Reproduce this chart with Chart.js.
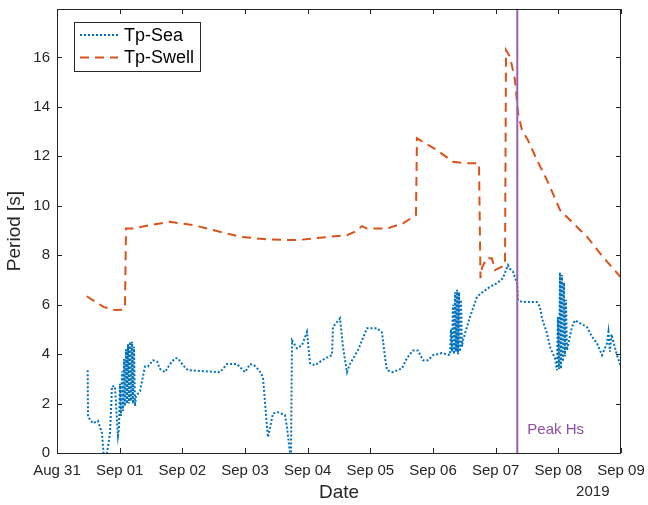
<!DOCTYPE html>
<html>
<head>
<meta charset="utf-8">
<script src="https://cdn.jsdelivr.net/npm/chart.js@4.4.1/dist/chart.umd.min.js"></script>
<style>
  html, body { margin: 0; padding: 0; background: #fff; }
  #wrap { width: 648px; height: 505px; position: relative; }
</style>
</head>
<body>
<div id="wrap"><canvas id="c"></canvas></div>
<script>
// Time axis: days elapsed since 2019-08-31 00:00
const dayTicks = [0, 1, 2, 3, 4, 5, 6, 7, 8, 9];
const dayLabels = ['Aug 31', 'Sep 01', 'Sep 02', 'Sep 03', 'Sep 04', 'Sep 05', 'Sep 06', 'Sep 07', 'Sep 08', 'Sep 09'];
const periodTicks = [0, 2, 4, 6, 8, 10, 12, 14, 16];
const yearLabel = '2019';

// Wind-sea peak period
const seaTime = [
  0.490, 0.495, 0.574, 0.654, 0.718, 0.742, 0.798, 0.846, 0.878, 0.925, 0.957, 0.973,
  0.989, 1.005, 1.021, 1.037, 1.053, 1.069, 1.085, 1.101, 1.117, 1.133, 1.149, 1.165,
  1.181, 1.197, 1.213, 1.229, 1.245, 1.261,
  1.324, 1.404, 1.452, 1.532, 1.596, 1.644, 1.723, 1.803, 1.883, 1.931, 2.011, 2.090,
  2.601, 2.713, 2.872, 3.000, 3.080, 3.144, 3.224, 3.287, 3.351, 3.367, 3.447, 3.526,
  3.638, 3.670, 3.718, 3.734, 3.750, 3.830, 3.909, 3.989, 4.037, 4.117, 4.229, 4.324,
  4.388, 4.404, 4.516, 4.564, 4.627, 4.675, 4.803, 4.947, 5.106, 5.186, 5.234, 5.266,
  5.361, 5.505, 5.585, 5.681, 5.760, 5.840, 5.920, 6.000, 6.143, 6.271, 6.287, 6.303,
  6.319, 6.335, 6.351, 6.367, 6.383, 6.399, 6.415, 6.431, 6.447, 6.463,
  6.478, 6.590, 6.702, 6.798,
  6.910, 7.021, 7.117, 7.149, 7.197, 7.229, 7.277, 7.341, 7.357, 7.420, 7.547, 7.659,
  7.707, 7.739, 7.819, 7.867, 7.946, 7.978, 7.994, 8.010, 8.026, 8.042, 8.058, 8.074,
  8.090, 8.106, 8.122, 8.138, 8.218, 8.266, 8.346, 8.457, 8.537, 8.617, 8.697, 8.776,
  8.800, 8.824, 8.848, 8.872, 8.936, 9.000
];
const seaPeriod = [
  3.35, 1.46, 1.20, 1.30, 0.80, 0.00, 0.00, 0.80, 2.70, 2.70, 1.30, 0.70,
  1.00, 2.80, 1.50, 3.30, 1.70, 3.80, 1.90, 4.20, 2.00, 4.40, 2.00, 4.50,
  2.10, 4.50, 2.00, 4.30, 1.90, 2.30,
  2.50, 3.50, 3.50, 3.75, 3.70, 3.40, 3.27, 3.60, 3.83, 3.83, 3.55, 3.35,
  3.27, 3.60, 3.60, 3.27, 3.60, 3.55, 3.35, 3.07, 1.04, 0.64, 1.60, 1.65,
  1.53, 1.04, 0.00, 0.00, 4.55, 4.23, 4.36, 4.90, 3.63, 3.55, 3.75, 3.88,
  3.96, 5.10, 5.45, 4.28, 3.27, 3.60, 4.16, 5.05, 5.05, 4.88, 3.87, 3.35,
  3.27, 3.42, 3.84, 4.15, 4.15, 3.75, 3.75, 3.96, 4.04, 3.96, 5.00, 4.10,
  6.00, 4.00, 6.50, 4.10, 6.60, 4.00, 6.50, 4.10, 6.20, 4.30,
  4.56, 5.50, 6.32, 6.52,
  6.72, 6.87, 7.07, 7.30, 7.60, 7.45, 7.33, 6.87, 6.18, 6.11, 6.11, 6.11,
  5.91, 5.45, 4.84, 4.29, 3.83, 3.35, 5.50, 3.40, 7.30, 3.40, 7.20, 3.70,
  6.90, 3.90, 6.20, 4.16, 5.10, 5.37, 5.25, 5.10, 4.70, 4.44, 3.96, 4.44,
  4.90, 4.10, 4.80, 4.56, 3.96, 3.47
];

// Swell peak period
const swellTime = [
  0.474, 0.750, 0.925, 1.053, 1.085, 1.101, 1.213, 1.484, 1.803, 2.170, 2.489, 2.920,
  3.351, 3.830, 4.244, 4.627, 4.755, 4.867, 4.947, 5.266, 5.521, 5.728, 5.744, 6.063,
  6.319, 6.542, 6.734, 6.758, 6.782, 6.861, 6.941, 6.989, 7.069, 7.149, 7.165, 7.229,
  7.308, 7.357, 7.420, 7.516, 7.659, 7.819, 8.026, 8.234, 8.457, 8.712, 9.000
];
const swellPeriod = [
  6.34, 5.90, 5.78, 5.80, 5.90, 9.08, 9.08, 9.22, 9.35, 9.22, 9.02, 8.75,
  8.64, 8.61, 8.72, 8.81, 8.95, 9.18, 9.08, 9.08, 9.29, 9.62, 12.73, 12.25,
  11.78, 11.72, 11.72, 7.07, 7.50, 7.90, 7.87, 7.40, 7.50, 7.60, 16.30, 16.03,
  15.10, 13.75, 13.06, 12.65, 11.85, 11.04, 9.83, 9.30, 8.75, 7.93, 7.10
];

// Time of peak significant wave height
const peakHsTime = 7.345;
const peakHsLabel = 'Peak Hs';

const axisColor = '#262626';
const fontFamily = '"Liberation Sans", Arial, Helvetica, sans-serif';

const toXY = (ts, vs) => ts.map((t, i) => ({ x: t, y: vs[i] }));

// Box frame with inward ticks on all four sides, the event marker and the year tag
const framePlugin = {
  id: 'frame',
  afterDatasetsDraw(chart) {
    const { ctx, chartArea: a, scales: { x, y } } = chart;
    ctx.save();
    // event marker
    const px = x.getPixelForValue(peakHsTime);
    ctx.strokeStyle = '#9b5fae';
    ctx.lineWidth = 2;
    ctx.beginPath();
    ctx.moveTo(px, a.top);
    ctx.lineTo(px, a.bottom);
    ctx.stroke();
    ctx.fillStyle = '#8e4fa3';
    ctx.font = '15px ' + fontFamily;
    ctx.textAlign = 'left';
    ctx.textBaseline = 'middle';
    ctx.fillText(peakHsLabel, px + 10, y.getPixelForValue(0.95));

    // frame
    ctx.strokeStyle = axisColor;
    ctx.lineWidth = 1;
    ctx.strokeRect(Math.round(a.left) + 0.5, Math.round(a.top) + 0.5,
      Math.round(a.right - a.left) - 1, Math.round(a.bottom - a.top));
    const tl = 5;
    ctx.beginPath();
    x.ticks.forEach(t => {
      const p = Math.round(x.getPixelForValue(t.value)) + 0.5;
      ctx.moveTo(p, a.bottom); ctx.lineTo(p, a.bottom - tl);
      ctx.moveTo(p, a.top); ctx.lineTo(p, a.top + tl);
    });
    y.ticks.forEach(t => {
      const p = Math.round(y.getPixelForValue(t.value)) + 0.5;
      ctx.moveTo(a.left, p); ctx.lineTo(a.left + tl, p);
      ctx.moveTo(a.right, p); ctx.lineTo(a.right - tl, p);
    });
    ctx.stroke();

    // year tag under the last date labels
    ctx.fillStyle = axisColor;
    ctx.font = '15px ' + fontFamily;
    ctx.textAlign = 'center';
    ctx.textBaseline = 'middle';
    ctx.fillText(yearLabel, x.getPixelForValue(8.55), 492);

    // legend
    const lx = 74, ly = 22, lw = 126, lh = 49;
    ctx.fillStyle = '#fff';
    ctx.fillRect(lx, ly, lw, lh);
    ctx.strokeStyle = axisColor;
    ctx.lineWidth = 1;
    ctx.strokeRect(lx + 0.5, ly + 0.5, lw, lh);
    ctx.font = '18px ' + fontFamily;
    ctx.textAlign = 'left';
    ctx.textBaseline = 'middle';
    chart.data.datasets.forEach((ds, i) => {
      const cy = ly + 13 + i * 22.5;
      ctx.strokeStyle = ds.borderColor;
      ctx.lineWidth = ds.borderWidth;
      ctx.setLineDash(ds.borderDash);
      ctx.beginPath();
      ctx.moveTo(lx + 6, cy);
      ctx.lineTo(lx + 44, cy);
      ctx.stroke();
      ctx.setLineDash([]);
      ctx.fillStyle = '#000';
      ctx.fillText(ds.label, lx + 50, cy + 1);
    });
    ctx.restore();
  }
};

new Chart(document.getElementById('c'), {
  type: 'line',
  data: {
    datasets: [
      {
        label: 'Tp-Sea',
        data: toXY(seaTime, seaPeriod),
        borderColor: '#0072BD',
        borderWidth: 2,
        borderDash: [2, 2],
        pointRadius: 0,
        fill: false,
        tension: 0
      },
      {
        label: 'Tp-Swell',
        data: toXY(swellTime, swellPeriod),
        borderColor: '#D95319',
        borderWidth: 2,
        borderDash: [9, 6],
        pointRadius: 0,
        fill: false,
        tension: 0
      }
    ]
  },
  options: {
    responsive: true,
    maintainAspectRatio: false,
    animation: false,
    devicePixelRatio: 1,
    layout: { padding: { left: 0, right: 27, top: 9, bottom: 0 } },
    plugins: { legend: { display: false }, tooltip: { enabled: false } },
    scales: {
      x: {
        type: 'linear',
        min: 0,
        max: 9,
        afterBuildTicks: s => { s.ticks = dayTicks.map(v => ({ value: v })); },
        afterFit: s => { s.height = 52; s.paddingLeft = 0; s.paddingRight = 0; },
        grid: { display: false, drawTicks: false },
        border: { display: false },
        ticks: {
          autoSkip: false,
          maxRotation: 0,
          padding: 9,
          color: axisColor,
          font: { family: fontFamily, size: 15 },
          callback: v => dayLabels[dayTicks.indexOf(v)]
        },
        title: {
          display: true,
          text: 'Date',
          color: axisColor,
          font: { family: fontFamily, size: 19, lineHeight: 1.2 },
          padding: { top: 0, bottom: 1 }
        }
      },
      y: {
        type: 'linear',
        min: 0,
        max: 17.96,
        afterBuildTicks: s => { s.ticks = periodTicks.map(v => ({ value: v })); },
        afterFit: s => { s.width = 57; s.paddingTop = 0; s.paddingBottom = 0; },
        grid: { display: false, drawTicks: false },
        border: { display: false },
        ticks: {
          padding: 7,
          color: axisColor,
          font: { family: fontFamily, size: 15 },
          callback: v => String(v)
        },
        title: {
          display: true,
          text: 'Period [s]',
          color: axisColor,
          font: { family: fontFamily, size: 19, lineHeight: 1.2 },
          padding: { top: 3, bottom: 0 }
        }
      }
    }
  },
  plugins: [framePlugin]
});
</script>
</body>
</html>
